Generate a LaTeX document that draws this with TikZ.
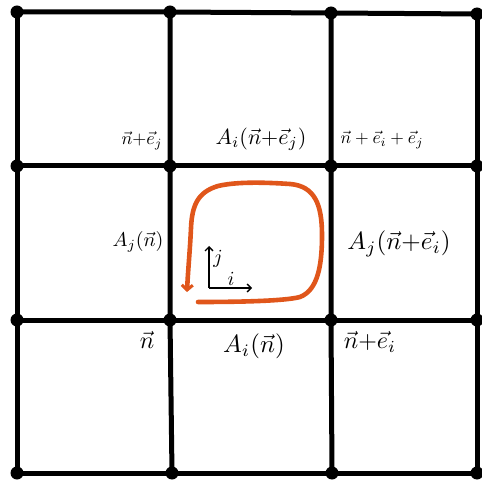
\documentclass[tikz,border=0pt]{standalone}
\usepackage{graphicx}
\usetikzlibrary{arrows.meta}
\definecolor{loopor}{HTML}{E0561B}
\newcommand{\lblsz}[2]{\scalebox{#1}{#2}}
\begin{document}
\begin{tikzpicture}[x=1pt,y=-1pt,
  gridline/.style={line width=5pt},
  dot/.style={circle,fill=black,inner sep=0pt,minimum size=13pt},
  lbl/.style={inner sep=0pt},
  axis/.style={line width=1.3pt,-{Straight Barb[length=4pt,width=8pt]}},
  loopline/.style={draw=loopor,line width=4.6pt,line cap=round,-{Straight Barb[length=5pt,width=11pt,line width=3pt]}}]
\useasboundingbox (0,0) rectangle (482,481);
% grid points
\node[dot] (p00) at (17,12) {};
\node[dot] (p10) at (170,12) {};
\node[dot] (p20) at (331,13) {};
\node[dot] (p30) at (477,14) {};
\node[dot] (p01) at (17,166) {};
\node[dot] (p11) at (170,166) {};
\node[dot] (p21) at (331,166) {};
\node[dot] (p31) at (477,166) {};
\node[dot] (p02) at (17,320) {};
\node[dot] (p12) at (170,320) {};
\node[dot] (p22) at (331,320) {};
\node[dot] (p32) at (477,320) {};
\node[dot] (p03) at (17,473) {};
\node[dot] (p13) at (172,473) {};
\node[dot] (p23) at (332,473) {};
\node[dot] (p33) at (477,473) {};
% grid lines
\foreach \r in {0,1,2,3}{
  \draw[gridline] (p0\r.center) -- (p1\r.center) -- (p2\r.center) -- (p3\r.center);
  \draw[gridline] (p\r0.center) -- (p\r1.center) -- (p\r2.center) -- (p\r3.center);
}
% labels
\node[lbl] (l1) at (142,141) {\lblsz{1.8}{$\vec{n}{+}\vec{e}_j$}};
\node[lbl] (l2) at (261,139) {\lblsz{2.2}{$A_i(\vec{n}{+}\vec{e}_j)$}};
\node[lbl] (l3) at (382,140) {\lblsz{1.75}{$\vec{n}+\vec{e}_i+\vec{e}_j$}};
\node[lbl] (l4) at (138,242) {\lblsz{2.0}{$A_j(\vec{n})$}};
\node[lbl] (l5) at (399,244) {\lblsz{2.5}{$A_j(\vec{n}{+}\vec{e}_i)$}};
\node[lbl] (l6) at (147,340) {\lblsz{2.4}{$\vec{n}$}};
\node[lbl] (l7) at (254,346) {\lblsz{2.5}{$A_i(\vec{n})$}};
\node[lbl] (l8) at (370,342) {\lblsz{2.4}{$\vec{n}{+}\vec{e}_i$}};
% orange loop
\coordinate (s) at (198,302);
\coordinate (e) at (187,292);
\draw[loopline] (s) .. controls (240,302) and (285,301) .. (300,297)
  .. controls (318,290) and (322,265) .. (322,235)
  .. controls (322,205) and (315,186) .. (290,184)
  .. controls (260,182) and (235,182) .. (218,186)
  .. controls (198,192) and (192,205) .. (191,228)
  .. controls (190,250) and (188,270) .. (e);
% axes
\coordinate (o) at (209,288);
\coordinate (oy) at (209,246);
\coordinate (ox) at (252,288);
\draw[axis] (o) -- (oy);
\draw[axis] (o) -- (ox);
\node[lbl] (lj) at (218,259) {\lblsz{2.0}{$j$}};
\node[lbl] (li) at (231,279) {\lblsz{2.0}{$i$}};
\end{tikzpicture}
\end{document}
